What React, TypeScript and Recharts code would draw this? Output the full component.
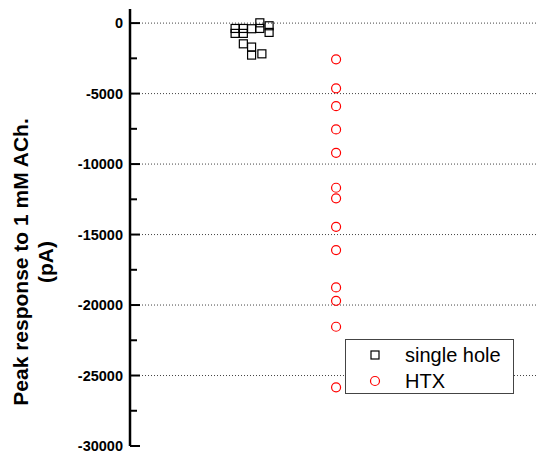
import { ScatterChart, Scatter, XAxis, YAxis, ReferenceLine } from 'recharts';

// single hole recordings (x = jitter position, y = peak current in pA)
const singleHoleX = [1.02, 1.02, 1.1, 1.1, 1.18, 1.26, 1.26, 1.35, 1.35, 1.1, 1.18, 1.18, 1.28];
const singleHoleY = [-380, -730, -380, -730, -400, 20, -380, -190, -660, -1470, -1700, -2270, -2180];

// HTX recordings
const htxX = [2, 2, 2, 2, 2, 2, 2, 2, 2, 2, 2, 2, 2];
const htxY = [-2570, -4630, -5890, -7540, -9200, -11680, -12430, -14450, -16100, -18750, -19700, -21540, -25840];

const yTicks = [0, -2500, -5000, -7500, -10000, -12500, -15000, -17500, -20000, -22500, -25000, -27500, -30000];
const gridValues = [0, -5000, -10000, -15000, -20000, -25000];

const singleHole = singleHoleX.map((x, i) => ({ x, y: singleHoleY[i] }));
const htx = htxX.map((x, i) => ({ x, y: htxY[i] }));

const FONT = "Arial, 'Liberation Sans', sans-serif";

const SquareShape = (p: any) => (
  <rect x={p.cx - 4} y={p.cy - 4} width={8} height={8} fill="none" stroke="#000" strokeWidth={1.2} />
);

const CircleShape = (p: any) => (
  <circle cx={p.cx} cy={p.cy} r={4.5} fill="none" stroke="#ff0000" strokeWidth={1.2} />
);

const YTick = (props: any) => {
  const { x, y, payload } = props;
  const major = payload.value % 5000 === 0;
  return (
    <g>
      <line x1={x} x2={x + (major ? 10 : 7)} y1={y} y2={y} stroke="#000" strokeWidth={2} />
      {major && (
        <text x={x - 7} y={y} dy={5} textAnchor="end" fontFamily={FONT} fontWeight="bold" fontSize={14.5} fill="#000">
          {payload.value}
        </text>
      )}
    </g>
  );
};

const YLabel = () => (
  <g fontFamily={FONT} fontWeight="bold" fontSize={21} fill="#000">
    <text x={20} y={262} textAnchor="middle" dominantBaseline="central" transform="rotate(-90 20 262)">
      Peak response to 1 mM ACh.
    </text>
    <text x={45} y={262} textAnchor="middle" dominantBaseline="central" transform="rotate(-90 45 262)">
      (pA)
    </text>
  </g>
);

const LegendBox = () => (
  <div
    style={{
      position: 'absolute',
      left: 345,
      top: 339,
      width: 169,
      height: 55,
      border: '1px solid #444',
      background: '#fff',
      fontFamily: FONT,
      fontSize: 20,
      boxSizing: 'border-box',
    }}
  >
    <svg width={20} height={54} style={{ position: 'absolute', left: 19, top: 0 }}>
      <rect x={6} y={11} width={8} height={8} fill="none" stroke="#000" strokeWidth={1.2} />
      <circle cx={10} cy={41} r={4.5} fill="none" stroke="#ff0000" strokeWidth={1.2} />
    </svg>
    <div style={{ position: 'absolute', left: 59, top: 3, lineHeight: '24px' }}>single hole</div>
    <div style={{ position: 'absolute', left: 59, top: 29, lineHeight: '24px' }}>HTX</div>
  </div>
);

export default function App() {
  return (
    <div style={{ position: 'absolute', left: 0, top: 0, width: 538, height: 455, background: '#fff' }}>
      <ScatterChart width={538} height={455} margin={{ top: 9, right: 1, bottom: 9, left: 0 }}>
        <XAxis type="number" dataKey="x" domain={[0, 3.95]} hide />
        <YAxis
          type="number"
          dataKey="y"
          width={130}
          domain={[-30000, 1000]}
          ticks={yTicks}
          interval={0}
          tickSize={0}
          tickMargin={0}
          tickLine={false}
          axisLine={{ stroke: '#000', strokeWidth: 2.5 }}
          tick={<YTick />}
          label={{ content: <YLabel /> }}
        />
        {gridValues.map((v) => (
          <ReferenceLine key={v} y={v} stroke="#444" strokeDasharray="1 2" />
        ))}
        <Scatter name="single hole" data={singleHole} shape={SquareShape} isAnimationActive={false} />
        <Scatter name="HTX" data={htx} shape={CircleShape} isAnimationActive={false} />
      </ScatterChart>
      <LegendBox />
    </div>
  );
}
